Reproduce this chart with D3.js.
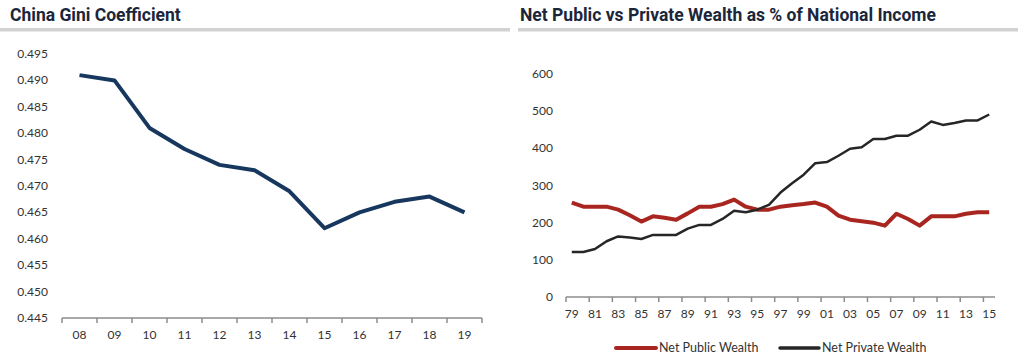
<!DOCTYPE html>
<html><head><meta charset="utf-8">
<script src="https://cdn.jsdelivr.net/npm/d3@7"></script>
<style>body{margin:0;background:#fff}svg{display:block}</style>
</head><body>
<svg id="c" width="1024" height="359"></svg>
<script>
const giniYears = ["08","09","10","11","12","13","14","15","16","17","18","19"];
const giniValues = [0.491,0.490,0.481,0.477,0.474,0.473,0.469,0.462,0.465,0.467,0.468,0.465];
const giniTicks = [0.445,0.450,0.455,0.460,0.465,0.470,0.475,0.480,0.485,0.490,0.495];

const wealthYears = ["79","80","81","82","83","84","85","86","87","88","89","90","91","92","93","94","95","96","97","98","99","00","01","02","03","04","05","06","07","08","09","10","11","12","13","14","15"];
const publicWealth = [254,243,243,243,235,220,203,217,213,208,225,243,243,250,262,243,235,235,243,247,250,254,243,219,208,204,200,192,224,210,192,217,217,217,224,228,228];
const privateWealth = [121,121,129,150,163,160,156,167,167,167,184,194,194,210,232,228,235,248,281,306,329,360,363,380,399,403,425,425,434,434,450,472,463,468,475,475,491];
const wealthTicks = [0,100,200,300,400,500,600];
const titles = ["China Gini Coefficient","Net Public vs Private Wealth as % of National Income"];
const legendNames = ["Net Public Wealth","Net Private Wealth"];

const svg = d3.select("#c");
const titleColor = "#1b263b";
const labelFont = "Lato, 'Open Sans', sans-serif";

// headers
[[10,0,510],[520,518,1018]].forEach((p,i)=>{
  svg.append("text").attr("x",p[0]).attr("y",20.5).text(titles[i])
    .attr("font-family","Roboto, sans-serif").attr("font-weight","bold")
    .attr("font-size",17.5).attr("fill",titleColor);
  svg.append("rect").attr("x",p[1]).attr("y",28).attr("width",p[2]-p[1]).attr("height",3.5).attr("fill","#d2d2d2");
});

// left chart
{
  const x = d3.scaleBand().domain(giniYears).range([62,482]);
  const y = d3.scaleLinear().domain([0.445,0.495]).range([318,54]);
  const g = svg.append("g");
  g.selectAll("text.yl").data(giniTicks).join("text")
    .attr("x",48).attr("y",d=>y(d)+4).attr("text-anchor","end")
    .attr("font-family",labelFont).attr("font-size",12).attr("fill","#333")
    .text(d=>d3.format(".3f")(d));
  const ax = g.append("g").attr("transform","translate(0,318)")
    .call(d3.axisBottom(x).tickSize(0).tickPadding(12));
  ax.select(".domain").attr("stroke","#8c8c8c").attr("stroke-width",1.5).attr("d","M62,0H482");
  ax.selectAll("text").attr("font-family",labelFont).attr("font-size",12).attr("fill","#333");
  const edges = giniYears.map(d=>x(d)).concat([482]);
  g.selectAll("line.tk").data(edges).join("line")
    .attr("x1",d=>d).attr("x2",d=>d).attr("y1",318).attr("y2",323)
    .attr("stroke","#8c8c8c").attr("stroke-width",1.5);
  const line = d3.line().x((d,i)=>x(giniYears[i])+x.bandwidth()/2).y(d=>y(d));
  g.append("path").datum(giniValues).attr("d",line).attr("fill","none")
    .attr("stroke","#17375e").attr("stroke-width",4).attr("stroke-linejoin","round");
}

// right chart
{
  const x = d3.scaleBand().domain(wealthYears).range([566,995]);
  const y = d3.scaleLinear().domain([0,600]).range([297,74]);
  const g = svg.append("g");
  g.selectAll("text.yl").data(wealthTicks).join("text")
    .attr("x",553).attr("y",d=>y(d)+4).attr("text-anchor","end")
    .attr("font-family",labelFont).attr("font-size",12).attr("fill","#333")
    .text(d=>d);
  const ax = g.append("g").attr("transform","translate(0,297)")
    .call(d3.axisBottom(x).tickValues(wealthYears.filter((d,i)=>i%2===0)).tickSize(0).tickPadding(12));
  ax.select(".domain").attr("stroke","#8c8c8c").attr("stroke-width",1.5).attr("d","M566,0H995");
  ax.selectAll("text").attr("font-family",labelFont).attr("font-size",12).attr("fill","#333");
  const edges = wealthYears.filter((d,i)=>i%2===0).map(d=>x(d));
  g.selectAll("line.tk").data(edges).join("line")
    .attr("x1",d=>d).attr("x2",d=>d).attr("y1",297).attr("y2",302)
    .attr("stroke","#8c8c8c").attr("stroke-width",1.5);
  const line = d3.line().x((d,i)=>x(wealthYears[i])+x.bandwidth()/2).y(d=>y(d));
  g.append("path").datum(publicWealth).attr("d",line).attr("fill","none")
    .attr("stroke","#a8261f").attr("stroke-width",4).attr("stroke-linejoin","round");
  g.append("path").datum(privateWealth).attr("d",line).attr("fill","none")
    .attr("stroke","#262626").attr("stroke-width",2.5).attr("stroke-linejoin","round");
  // legend
  const leg = [[616,656,"#a8261f",4],[780,819,"#262626",3.5]];
  leg.forEach((l,i)=>{
    g.append("line").attr("x1",l[0]).attr("x2",l[1]).attr("y1",348).attr("y2",348)
      .attr("stroke",l[2]).attr("stroke-width",l[3]).attr("stroke-linecap","round");
    g.append("text").attr("x",l[1]+3).attr("y",352).text(legendNames[i])
      .attr("font-family",labelFont).attr("font-size",12.5).attr("fill","#333");
  });
}
</script>
</body></html>
